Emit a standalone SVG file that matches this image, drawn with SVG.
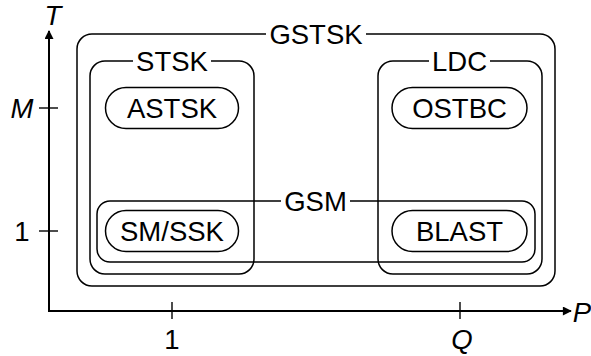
<svg xmlns="http://www.w3.org/2000/svg" width="591" height="356" viewBox="0 0 591 356">
  <style>
    .box { fill: none; stroke: #000; stroke-width: 1.5; }
    .pill { fill: none; stroke: #000; stroke-width: 1.5; }
    .gap { fill: #fff; stroke: none; }
    .lbl { font-family: "Liberation Sans", Arial, sans-serif; font-size: 27.5px; fill: #000; text-anchor: middle; }
    .ax { stroke: #000; stroke-width: 2; fill: none; }
    .tick { stroke: #000; stroke-width: 1.4; }
    .it { font-style: italic; }
  </style>
  <defs>
    <marker id="arrow" viewBox="0 0 10 10" refX="9" refY="5" markerWidth="10" markerHeight="9" markerUnits="userSpaceOnUse" orient="auto">
      <path d="M0,0 L10,5 L0,10 z" fill="#000"/>
    </marker>
  </defs>

  <!-- axes -->
  <g id="axes">
    <line class="ax" x1="49" y1="311" x2="49" y2="31" marker-end="url(#arrow)"/>
    <line class="ax" x1="48" y1="311" x2="571" y2="311" marker-end="url(#arrow)"/>
    <line class="tick" x1="39" y1="108" x2="58" y2="108"/>
    <line class="tick" x1="39" y1="231" x2="58" y2="231"/>
    <line class="tick" x1="172" y1="302" x2="172" y2="319"/>
    <line class="tick" x1="460" y1="302" x2="460" y2="319"/>
    <text class="lbl it" x="53" y="25">T</text>
    <text class="lbl it" x="582" y="322">P</text>
    <text class="lbl it" x="22" y="118">M</text>
    <text class="lbl" x="22" y="241">1</text>
    <text class="lbl" x="172" y="349">1</text>
    <text class="lbl it" x="462" y="349">Q</text>
  </g>

  <!-- nested sets -->
  <g id="GSTSK">
    <rect class="box" x="77" y="34" width="478" height="252" rx="15"/>
    <rect class="gap" x="266" y="28" width="100" height="12"/>
    <text class="lbl" x="316" y="44">GSTSK</text>
  </g>
  <g id="STSK">
    <rect class="box" x="90" y="61" width="164" height="213" rx="15"/>
    <rect class="gap" x="133" y="55" width="78" height="12"/>
    <text class="lbl" x="172" y="71">STSK</text>
  </g>
  <g id="LDC">
    <rect class="box" x="378" y="61" width="164" height="213" rx="15"/>
    <rect class="gap" x="429" y="55" width="61" height="12"/>
    <text class="lbl" x="459.5" y="71">LDC</text>
  </g>
  <g id="GSM">
    <rect class="box" x="97" y="201" width="438" height="61" rx="13"/>
    <rect class="gap" x="281" y="195" width="69" height="12"/>
    <text class="lbl" x="315.5" y="211">GSM</text>
  </g>

  <!-- schemes -->
  <g id="ASTSK">
    <rect class="pill" x="105.5" y="87.5" width="133" height="41" rx="20.5"/>
    <text class="lbl" x="172" y="118">ASTSK</text>
  </g>
  <g id="OSTBC">
    <rect class="pill" x="392" y="87.5" width="135" height="41" rx="20.5"/>
    <text class="lbl" x="459.5" y="118">OSTBC</text>
  </g>
  <g id="SMSSK">
    <rect class="pill" x="105.5" y="210.5" width="133" height="41" rx="20.5"/>
    <text class="lbl" x="172" y="241">SM/SSK</text>
  </g>
  <g id="BLAST">
    <rect class="pill" x="392" y="210.5" width="135" height="41" rx="20.5"/>
    <text class="lbl" x="459.5" y="241">BLAST</text>
  </g>

  <g id="connectors"></g>
</svg>
